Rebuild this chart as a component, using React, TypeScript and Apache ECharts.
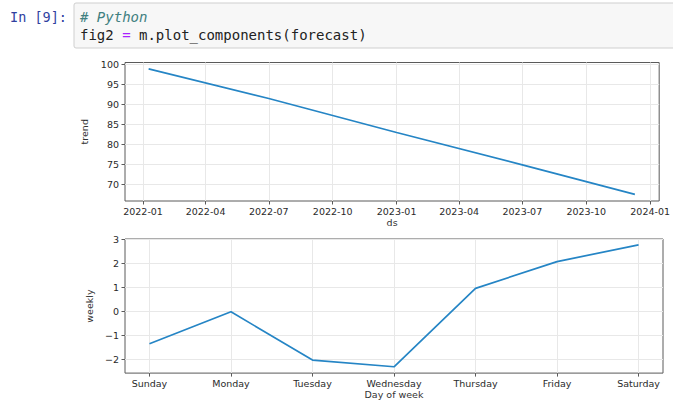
import React, { useEffect, useRef } from "react";
import * as echarts from "echarts";

const trendDates = ["2022-01-09", "2022-07-01", "2023-01-01", "2023-07-01", "2023-12-10"];
const trendValues = [98.8, 91.4, 82.9, 74.8, 67.4];
const dateTickLabels = [
  "2022-01", "2022-04", "2022-07", "2022-10",
  "2023-01", "2023-04", "2023-07", "2023-10", "2024-01",
];
const trendTicks = [70, 75, 80, 85, 90, 95, 100];

const weekdays = ["Sunday", "Monday", "Tuesday", "Wednesday", "Thursday", "Friday", "Saturday"];
const weeklyValues = [-1.36, -0.02, -2.04, -2.32, 0.96, 2.08, 2.78];
const weeklyTicks = [-2, -1, 0, 1, 2, 3];

const promptText = "In [9]:";
const codeComment = "# Python";
const codeLine = ["fig2 ", "=", " m.plot_components(forecast)"];

const toTs = (s: string) => new Date(s + "T00:00:00").getTime();

export default function App() {
  const ref = useRef<HTMLDivElement>(null);
  useEffect(() => {
    document.body.style.margin = "0";
    document.body.style.overflow = "hidden";
    const chart = echarts.init(ref.current!, null, { renderer: "svg" });
    const font = "DejaVu Sans";
    const mono = "DejaVu Sans Mono";
    const lineColor = "#2585c5";
    const frame = "#5a5a5a";
    const gridCol = "#e8e8e8";
    const tickTs = dateTickLabels.map((m) => toTs(m + "-01"));
    const labelMap: Record<number, string> = {};
    tickTs.forEach((t, i) => (labelMap[t] = dateTickLabels[i]));

    const axisCommon = {
      axisLine: { show: false, onZero: false },
      splitLine: { show: true, lineStyle: { color: gridCol, width: 1 } },
      nameTextStyle: { fontFamily: font, fontSize: 9.5, color: "#333" },
    };
    const tickStyle = { show: true, length: 3.5, lineStyle: { color: frame } };
    const labelStyle = { fontFamily: font, fontSize: 9.5, color: "#2a2a2a" };

    chart.setOption({
      animation: false,
      backgroundColor: "#fff",
      graphic: [
        {
          type: "rect",
          shape: { x: 74, y: 3, width: 620, height: 45, r: 2 },
          style: { fill: "#f7f7f7", stroke: "#cfcfcf", lineWidth: 1 },
        },
        {
          type: "text",
          x: 10,
          y: 17,
          style: {
            text: promptText,
            font: `13.5px "${mono}"`,
            fill: "#303F9F",
            verticalAlign: "middle",
          },
        },
        {
          type: "text",
          x: 80,
          y: 17,
          style: {
            text: codeComment,
            font: `italic 14px "${mono}"`,
            fill: "#408080",
            verticalAlign: "middle",
          },
        },
        {
          type: "text",
          x: 80,
          y: 35,
          style: {
            text: `{a|${codeLine[0]}}{b|${codeLine[1]}}{a|${codeLine[2]}}`,
            verticalAlign: "middle",
            rich: {
              a: { fontFamily: mono, fontSize: 14, fill: "#222" },
              b: { fontFamily: mono, fontSize: 14, fill: "#AA22FF" },
            },
          },
        },
      ],
      grid: [
        { left: 125, right: 10, top: 62.5, bottom: 199, show: true, borderColor: frame, borderWidth: 1, backgroundColor: "transparent" },
        { left: 125, right: 10, top: 239, bottom: 22.3, show: true, borderColor: frame, borderWidth: 1, backgroundColor: "transparent" },
      ],
      xAxis: [
        {
          ...axisCommon,
          type: "value",
          gridIndex: 0,
          min: toTs("2021-12-06"),
          max: toTs("2024-01-14"),
          name: "ds",
          nameLocation: "middle",
          nameGap: 16,
          axisTick: { ...tickStyle, customValues: tickTs },
          axisLabel: {
            ...labelStyle,
            margin: 5,
            customValues: tickTs,
            formatter: (v: number) => labelMap[v] ?? "",
          },
        },
        {
          ...axisCommon,
          type: "value",
          gridIndex: 1,
          min: -0.3,
          max: 6.3,
          name: "Day of week",
          nameLocation: "middle",
          nameGap: 15.5,
          axisTick: { ...tickStyle, customValues: weekdays.map((_, i) => i) },
          axisLabel: {
            ...labelStyle,
            margin: 5,
            customValues: weekdays.map((_, i) => i),
            formatter: (v: number) => weekdays[Math.round(v)] ?? "",
          },
        },
      ],
      yAxis: [
        {
          ...axisCommon,
          type: "value",
          gridIndex: 0,
          min: 65.75,
          max: 100.4,
          name: "trend",
          nameLocation: "middle",
          nameGap: 28.5,
          axisTick: { ...tickStyle, customValues: trendTicks },
          axisLabel: { ...labelStyle, margin: 6, customValues: trendTicks },
        },
        {
          ...axisCommon,
          type: "value",
          gridIndex: 1,
          min: -2.585,
          max: 3.025,
          name: "weekly",
          nameLocation: "middle",
          nameGap: 26,
          axisTick: { ...tickStyle, customValues: weeklyTicks },
          axisLabel: {
            ...labelStyle,
            margin: 6,
            customValues: weeklyTicks,
            formatter: (v: number) => (v < 0 ? "\u2212" + Math.abs(v) : String(v)),
          },
        },
      ],
      series: [
        {
          type: "line",
          xAxisIndex: 0,
          yAxisIndex: 0,
          showSymbol: false,
          lineStyle: { color: lineColor, width: 1.7 },
          data: trendDates.map((d, i) => [toTs(d), trendValues[i]]),
        },
        {
          type: "line",
          xAxisIndex: 1,
          yAxisIndex: 1,
          showSymbol: false,
          lineStyle: { color: lineColor, width: 1.7 },
          data: weeklyValues.map((v, i) => [i, v]),
        },
      ],
    });
    return () => chart.dispose();
  }, []);
  return <div ref={ref} style={{ width: 673, height: 400 }} />;
}
